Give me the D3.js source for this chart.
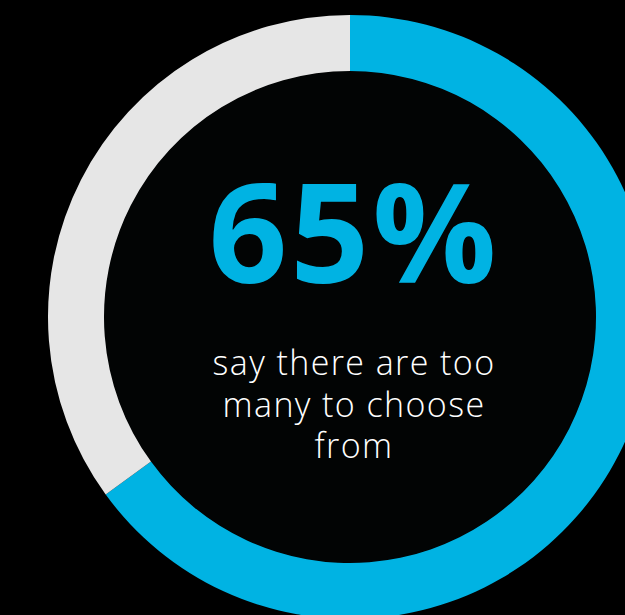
<!DOCTYPE html>
<html>
<head>
<meta charset="utf-8">
<script src="https://cdn.jsdelivr.net/npm/d3@7"></script>
<style>
  body { margin: 0; background: #000; }
</style>
</head>
<body>
<div id="chart"></div>
<script>
// slices of the ring
var labels = ["too many", "other"];
var values = [65, 35];
var colors = ["#00b3e3", "#e6e6e6"];
var bigText = "65%";
var caption = ["say there are too", "many to choose", "from"];

var width = 625, height = 615;
var cx = 350, cy = 317;
var outerR = 302, innerR = 246;

var svg = d3.select("#chart")
    .append("svg")
    .attr("width", width)
    .attr("height", height);

svg.append("rect")
    .attr("width", width)
    .attr("height", height)
    .attr("fill", "#000");

var g = svg.append("g")
    .attr("transform", "translate(" + cx + "," + cy + ")");

// inner disc
g.append("circle")
    .attr("r", innerR)
    .attr("fill", "#020404");

var pie = d3.pie().sort(null).value(function(d) { return d; });
var arc = d3.arc().innerRadius(innerR).outerRadius(outerR);

g.selectAll("path")
    .data(pie(values))
    .enter()
    .append("path")
    .attr("d", arc)
    .attr("fill", function(d, i) { return colors[i]; });

// big number
g.append("text")
    .attr("x", 4)
    .attr("y", -34)
    .attr("text-anchor", "middle")
    .style("font-family", "'Open Sans', sans-serif")
    .style("font-weight", 700)
    .style("font-size", "138px")
    .style("letter-spacing", "3px")
    .attr("fill", "#00b3e3")
    .text(bigText);

// caption lines
g.selectAll(".cap")
    .data(caption)
    .enter()
    .append("text")
    .attr("class", "cap")
    .attr("x", 4)
    .attr("y", function(d, i) { return 58 + i * 41.5; })
    .attr("text-anchor", "middle")
    .style("font-family", "'Open Sans', sans-serif")
    .style("font-weight", 300)
    .style("font-size", "34px")
    .style("letter-spacing", "1.4px")
    .attr("fill", "#fff")
    .text(function(d) { return d; });
</script>
</body>
</html>
